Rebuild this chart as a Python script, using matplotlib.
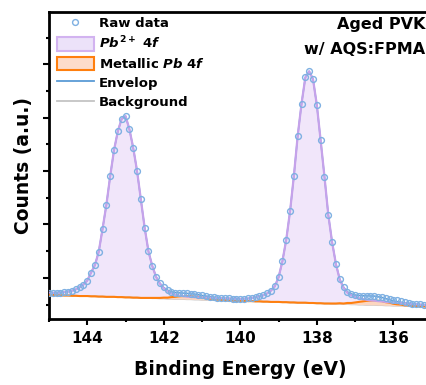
import numpy as np
import matplotlib
matplotlib.use("Agg")
import matplotlib.pyplot as plt
from matplotlib.patches import Patch
from matplotlib.lines import Line2D
from matplotlib.ticker import MultipleLocator

plt.rcParams['font.family'] = ['DejaVu Sans']
plt.rcParams['font.weight'] = 'bold'
plt.rcParams['mathtext.fontset'] = 'custom'
plt.rcParams['mathtext.rm'] = 'DejaVu Sans:bold'
plt.rcParams['mathtext.it'] = 'DejaVu Sans:italic:bold'
plt.rcParams['mathtext.bf'] = 'DejaVu Sans:bold'

# binding energy grid, 145.0 -> 135.0 eV in 0.1 eV steps
energy = np.round(np.arange(145.0, 134.95, -0.1), 1)

raw = [-0.55, -0.56, -0.56, -0.55, -0.53, -0.51, -0.48, -0.43, -0.35, -0.25,
       -0.10, 0.20, 0.48, 0.98, 1.84, 2.74, 3.82, 4.79, 5.50, 5.96,
       6.06, 5.58, 4.88, 4.02, 2.95, 1.88, 0.99, 0.45, 0.04, -0.20,
       -0.36, -0.46, -0.52, -0.55, -0.56, -0.57, -0.58, -0.60, -0.61, -0.63,
       -0.65, -0.68, -0.70, -0.72, -0.74, -0.75, -0.76, -0.77, -0.78, -0.78,
       -0.79, -0.78, -0.77, -0.75, -0.72, -0.69, -0.65, -0.58, -0.48, -0.32,
       0.02, 0.62, 1.42, 2.49, 3.81, 5.32, 6.52, 7.51, 7.74, 7.45,
       6.48, 5.15, 3.79, 2.36, 1.34, 0.52, -0.05, -0.35, -0.52, -0.60,
       -0.64, -0.66, -0.67, -0.67, -0.68, -0.69, -0.71, -0.73, -0.75, -0.78,
       -0.81, -0.84, -0.88, -0.91, -0.94, -0.96, -0.98, -0.99, -1.00, -1.01,
       -1.02]

background = [-0.64, -0.64, -0.65, -0.65, -0.66, -0.66, -0.67, -0.67, -0.68, -0.68,
              -0.68, -0.69, -0.69, -0.70, -0.70, -0.71, -0.71, -0.71, -0.72, -0.72,
              -0.73, -0.73, -0.74, -0.74, -0.75, -0.75, -0.75, -0.76, -0.76, -0.77,
              -0.77, -0.78, -0.78, -0.79, -0.79, -0.79, -0.80, -0.80, -0.81, -0.81,
              -0.82, -0.82, -0.82, -0.83, -0.83, -0.84, -0.84, -0.85, -0.85, -0.86,
              -0.86, -0.86, -0.87, -0.87, -0.88, -0.88, -0.89, -0.89, -0.90, -0.90,
              -0.90, -0.91, -0.91, -0.92, -0.92, -0.93, -0.93, -0.93, -0.94, -0.94,
              -0.95, -0.95, -0.96, -0.96, -0.97, -0.97, -0.97, -0.98, -0.98, -0.99,
              -0.99, -1.00, -1.00, -1.01, -1.01, -1.01, -1.02, -1.02, -1.03, -1.03,
              -1.04, -1.04, -1.04, -1.05, -1.05, -1.06, -1.06, -1.07, -1.07, -1.08,
              -1.08]

# Pb2+ 4f component (above background)
pb2 = [0.09, 0.08, 0.09, 0.10, 0.13, 0.15, 0.19, 0.24, 0.33, 0.43,
       0.58, 0.89, 1.17, 1.68, 2.54, 3.45, 4.53, 5.50, 6.22, 6.68,
       6.79, 6.31, 5.62, 4.76, 3.70, 2.63, 1.74, 1.20, 0.79, 0.55,
       0.38, 0.28, 0.20, 0.16, 0.13, 0.11, 0.10, 0.09, 0.09, 0.08,
       0.08, 0.08, 0.08, 0.08, 0.07, 0.08, 0.07, 0.08, 0.07, 0.08,
       0.07, 0.08, 0.10, 0.12, 0.16, 0.19, 0.24, 0.31, 0.42, 0.58,
       0.92, 1.53, 2.33, 3.41, 4.73, 6.25, 7.45, 8.44, 8.68, 8.39,
       7.43, 6.10, 4.75, 3.32, 2.30, 1.48, 0.90, 0.61, 0.42, 0.34,
       0.28, 0.24, 0.21, 0.19, 0.17, 0.16, 0.15, 0.14, 0.13, 0.12,
       0.11, 0.10, 0.09, 0.09, 0.08, 0.08, 0.07, 0.07, 0.06, 0.06,
       0.06]

# metallic Pb 4f component (above background)
metal = [0.00] * 27 + [0.01, 0.01, 0.02, 0.03, 0.04, 0.06, 0.08, 0.10, 0.11, 0.12,
                       0.12, 0.11, 0.10, 0.08, 0.06, 0.04, 0.03, 0.02, 0.01, 0.01] \
        + [0.00] * 27 + [0.01, 0.01, 0.02, 0.02, 0.04, 0.05, 0.07, 0.10, 0.12, 0.15,
                         0.16, 0.17, 0.16, 0.15, 0.12, 0.10, 0.07, 0.05, 0.04, 0.02,
                         0.02, 0.01, 0.01] + [0.00] * 4

bg = np.array(background)
pb2_curve = bg + np.array(pb2)
metal_curve = bg + np.array(metal)
envelope = bg + np.array(pb2) + np.array(metal)

fig = plt.figure(figsize=(4.26, 3.85), dpi=100)
ax = fig.add_axes([49 / 426, 1 - 319 / 385, 382.6 / 426, 307 / 385])

ax.plot(energy, bg, color='#c4c4c4', lw=1.3, zorder=2)
ax.fill_between(energy, bg, metal_curve, color='#fcd6bf', lw=0, zorder=2)
ax.plot(energy, metal_curve, color='#ff7f0e', lw=1.5, zorder=3)
ax.fill_between(energy, bg, pb2_curve, color='#f1e6fa', lw=0, zorder=1)
ax.plot(energy, envelope, color='#5b9bd5', lw=1.1, zorder=3.5)
ax.plot(energy, pb2_curve, color='#c6a2ea', lw=1.6, zorder=4)
ax.plot(energy, raw, 'o', mfc='none', mec='#7eb0e2', ms=4.2, mew=1.0, zorder=5)

ax.set_xlim(145, 135)
ax.set_ylim(-1.54, 9.96)
ax.xaxis.set_major_locator(MultipleLocator(2))
ax.xaxis.set_minor_locator(MultipleLocator(1))
ax.yaxis.set_major_locator(MultipleLocator(2))
ax.yaxis.set_minor_locator(MultipleLocator(1))
ax.set_yticklabels([])
ax.tick_params(which='major', length=4.5, width=1.5, labelsize=11, pad=4)
ax.tick_params(which='minor', length=2.5, width=1.5)
for lab in ax.get_xticklabels():
    lab.set_fontweight('bold')
for s in ax.spines.values():
    s.set_linewidth(2)

ax.set_xlabel('Binding Energy (eV)', fontsize=13.5, fontweight='bold', labelpad=10)
ax.set_ylabel('Counts (a.u.)', fontsize=13.5, fontweight='bold', labelpad=3)

handles = [
    Line2D([], [], ls='none', marker='o', mfc='none', mec='#7eb0e2', ms=4.2, mew=1.0),
    Patch(facecolor='#ece2f9', edgecolor='#d2b3f0', lw=1.5),
    Patch(facecolor='#fddcca', edgecolor='#ff7f0e', lw=1.5),
    Line2D([], [], color='#5b9bd5', lw=1.3),
    Line2D([], [], color='#c4c4c4', lw=1.3),
]
labels = ['Raw data', r'$Pb^{2+}$ $4f$', r'Metallic $Pb$ $4f$', 'Envelop', 'Background']
fig.legend(handles, labels, loc='upper left', bbox_to_anchor=(57 / 426, 1 - 16 / 385),
           frameon=False, fontsize=9.5, handlelength=2.8, handleheight=1.25,
           labelspacing=0.36, handletextpad=0.38, borderpad=0, borderaxespad=0,
           numpoints=1)

fig.text(0.998, 1 - 29 / 385, 'Aged PVK', ha='right', va='baseline',
         fontsize=11.5, fontweight='bold')
fig.text(0.998, 1 - 54 / 385, 'w/ AQS:FPMA', ha='right', va='baseline',
         fontsize=11.5, fontweight='bold')

fig.savefig('out.png', dpi=100)
